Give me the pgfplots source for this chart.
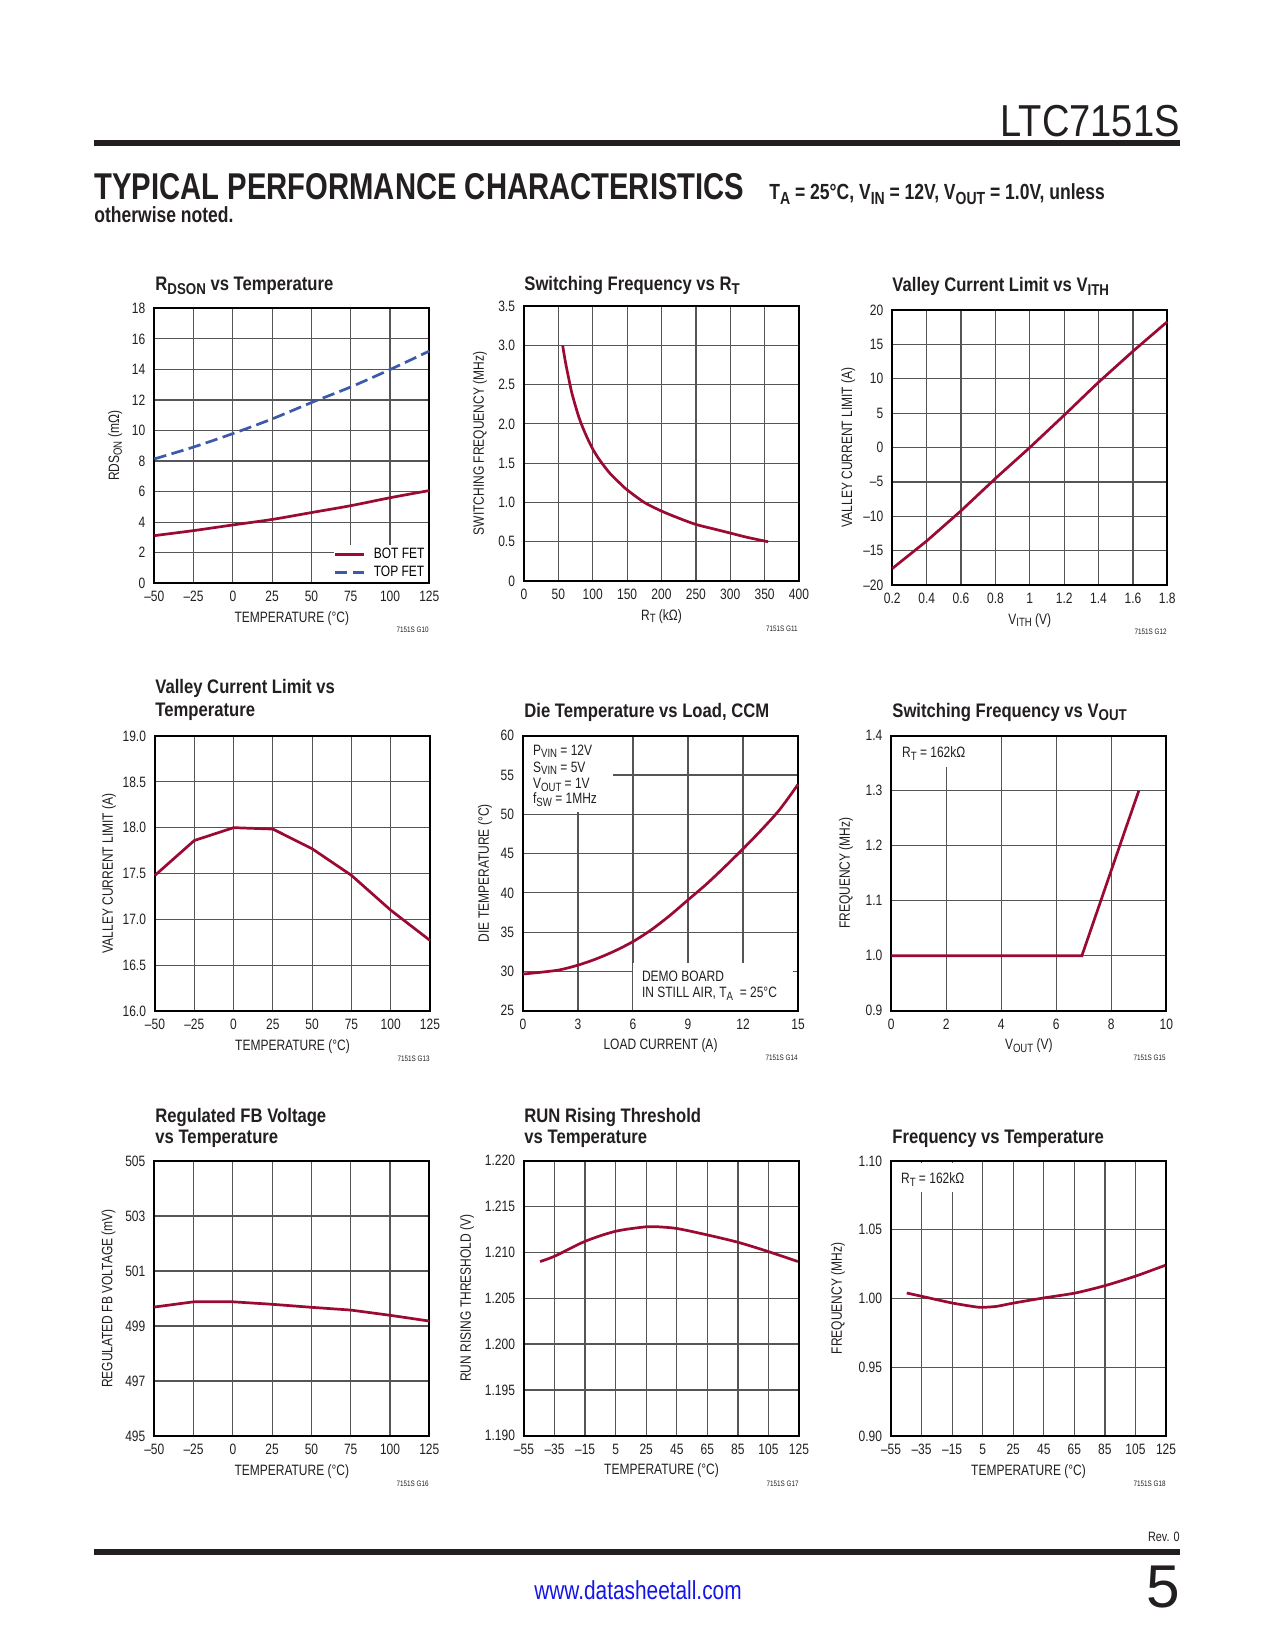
\documentclass[border=0pt]{standalone}
\usepackage{fontspec}
\setmainfont{Liberation Sans}[FakeStretch=0.8]
\newfontfamily\ttlfont{Liberation Sans}[FakeStretch=0.85]
\newfontfamily\plainfont{Liberation Sans}
\usepackage{graphicx}
\usepackage{xcolor}
\usepackage{pgfplots}
\pgfplotsset{compat=1.18}
\definecolor{crv}{RGB}{155,10,50}
\definecolor{blu}{RGB}{60,90,170}
\definecolor{grd}{RGB}{85,85,85}
\definecolor{ink}{RGB}{35,31,32}
\definecolor{web}{RGB}{20,20,235}
\newcommand{\sub}[1]{\raisebox{-0.35ex}{\scalebox{0.8}{#1}}}
\newcommand{\tk}{\fontsize{7.2}{8.4}\selectfont}
\newcommand{\ttl}{\ttlfont\bfseries\fontsize{9.4}{11}\selectfont}
\newcommand{\gid}{\fontsize{3.8}{4.2}\selectfont}
\pgfplotsset{
 lt/.style={
  scale only axis, width=132pt, height=132pt, anchor=south west,
  axis line style={line width=0.9pt, black},
  grid=major, grid style={line width=0.6pt, grd},
  tick style={draw=none},
  tick label style={font=\tk, ink},
  label style={font=\tk, ink},
  xticklabel style={anchor=base, yshift=-8.9pt},
  yticklabel style={xshift=-0.8pt},
  /pgf/number format/assume math mode=true,
  xlabel style={at={(axis description cs:0.5,-0.142)}, anchor=base},
  cycle list={{crv, mark=none}},
  every axis plot/.append style={line width=1.3pt, crv, mark=none},
  clip=false,
 },
 tempx/.style={xmin=-50,xmax=125, xtick={-50,-25,0,25,50,75,100,125},
   xticklabels={–50,–25,0,25,50,75,100,125}, xlabel={TEMPERATURE (°C)}},
 tempx2/.style={xmin=-55,xmax=125, xtick={-55,-35,-15,5,25,45,65,85,105,125},
   xticklabels={–55,–35,–15,5,25,45,65,85,105,125}, xlabel={TEMPERATURE (°C)}},
}
\begin{document}
\begin{tikzpicture}
\begin{scope}[x=0.48pt,y=-0.48pt]
\useasboundingbox (0,0) rectangle (1275,1650);
\fill[white] (0,0) rectangle (1275,1650);
% header
\node[anchor=base east, inner sep=0, ink] at (1180,137) {\resizebox{86pt}{15pt}{\plainfont LTC7151S}};
\fill[ink] (94,140) rectangle (1180,146);
\node[anchor=base west, inner sep=0, ink] at (94,200) {\resizebox{312pt}{12.5pt}{\plainfont\bfseries TYPICAL PERFORMANCE CHARACTERISTICS}};
\node[anchor=base west, inner sep=0, ink] at (769,200) {\resizebox{161pt}{!}{\bfseries\fontsize{10.5}{12}\selectfont T\sub{A} = 25°C, V\sub{IN} = 12V, V\sub{OUT} = 1.0V, unless}};
\node[anchor=base west, inner sep=0, ink] at (94,223) {\bfseries\fontsize{10.5}{12}\selectfont otherwise noted.};
% footer
\node[anchor=base east, inner sep=0, ink] at (1180,1541) {\fontsize{6.5}{7}\selectfont Rev. 0};
\fill[ink] (94,1549) rectangle (1180,1555);
\node[anchor=base, inner sep=0, web] at (638,1599) {\fontsize{12.5}{14}\selectfont www.datasheetall.com};
\node[anchor=base east, inner sep=0, ink] at (1180,1607) {\plainfont\fontsize{29}{30}\selectfont 5};
% titles
\node[anchor=base west, inner sep=0, ink] at (155,291) {\ttl R\sub{DSON} vs Temperature};
\node[anchor=base west, inner sep=0, ink] at (524,291) {\ttl Switching Frequency vs R\sub{T}};
\node[anchor=base west, inner sep=0, ink] at (892,292) {\ttl Valley Current Limit vs V\sub{ITH}};
\node[anchor=base west, inner sep=0, ink] at (155,693) {\ttl Valley Current Limit vs};
\node[anchor=base west, inner sep=0, ink] at (155,716) {\ttl Temperature};
\node[anchor=base west, inner sep=0, ink] at (524,717) {\ttl Die Temperature vs Load, CCM};
\node[anchor=base west, inner sep=0, ink] at (892,717) {\ttl Switching Frequency vs V\sub{OUT}};
\node[anchor=base west, inner sep=0, ink] at (155,1122) {\ttl Regulated FB Voltage};
\node[anchor=base west, inner sep=0, ink] at (155,1143) {\ttl vs Temperature};
\node[anchor=base west, inner sep=0, ink] at (524,1122) {\ttl RUN Rising Threshold};
\node[anchor=base west, inner sep=0, ink] at (524,1143) {\ttl vs Temperature};
\node[anchor=base west, inner sep=0, ink] at (892,1143) {\ttl Frequency vs Temperature};
% graph ids
\node[anchor=base east, inner sep=0, ink] at (429,632) {\gid 7151S G10};
\node[anchor=base east, inner sep=0, ink] at (798,631) {\gid 7151S G11};
\node[anchor=base east, inner sep=0, ink] at (1167,634) {\gid 7151S G12};
\node[anchor=base east, inner sep=0, ink] at (430,1061) {\gid 7151S G13};
\node[anchor=base east, inner sep=0, ink] at (798,1060) {\gid 7151S G14};
\node[anchor=base east, inner sep=0, ink] at (1166,1060) {\gid 7151S G15};
\node[anchor=base east, inner sep=0, ink] at (429,1486) {\gid 7151S G16};
\node[anchor=base east, inner sep=0, ink] at (799,1486) {\gid 7151S G17};
\node[anchor=base east, inner sep=0, ink] at (1166,1486) {\gid 7151S G18};
\end{scope}

% ---------- 1: RDSON
\begin{axis}[lt, tempx, at={(154.3*0.48pt,-583.3*0.48pt)},
 ymin=0,ymax=18, ytick={0,2,4,6,8,10,12,14,16,18}, yticklabels={0,2,4,6,8,10,12,14,16,18},
 ylabel={RDS\sub{ON} (mΩ)},
 ylabel style={at={(axis description cs:-0.142,0.5)}, anchor=center},
 legend style={at={(1,0)}, anchor=south east, xshift=-0.6pt, yshift=0.6pt, fill=white, draw=none, font=\tk, row sep=-0.5pt, inner xsep=0pt, inner ysep=0pt,
   nodes={inner ysep=1.2pt, inner xsep=1.5pt},
   /tikz/every odd column/.style={column sep=2.5pt}},
 legend cell align=left,
 legend image code/.code={\draw[#1, line width=1.3pt] (0pt,0pt) -- (14pt,0pt);},
]
\addplot[smooth] coordinates {(-50,3.12)(-25,3.45)(0,3.82)(25,4.18)(50,4.63)(75,5.08)(100,5.6)(125,6.07)};
\addlegendentry{BOT FET}
\addplot[smooth, blu, dash pattern=on 6pt off 2.6pt] coordinates {(-50,8.14)(-25,8.92)(0,9.8)(25,10.76)(50,11.83)(75,12.85)(100,13.99)(125,15.2)};
\addlegendentry{TOP FET}
\end{axis}

% ---------- 2: fsw vs RT
\begin{axis}[lt, at={(524*0.48pt,-581*0.48pt)},
 xmin=0,xmax=400, xtick={0,50,100,150,200,250,300,350,400}, xticklabels={0,50,100,150,200,250,300,350,400},
 ymin=0,ymax=3.5, ytick={0,0.5,1,1.5,2,2.5,3,3.5}, yticklabels={0,0.5,1.0,1.5,2.0,2.5,3.0,3.5},
 xlabel={R\sub{T} (kΩ)}, ylabel={SWITCHING FREQUENCY (MHz)},
 ylabel style={at={(axis description cs:-0.16,0.5)}, anchor=center},
]
\addplot[smooth] coordinates {(56.2,3.0)(60,2.80)(65,2.58)(70,2.38)(80,2.08)(90,1.86)(100,1.68)(110,1.54)(125,1.37)(140,1.24)(150,1.16)(175,1.0)(200,0.89)(225,0.80)(250,0.72)(275,0.665)(300,0.61)(325,0.555)(355,0.50)};
\end{axis}

% ---------- 3: valley vs VITH
\begin{axis}[lt, at={(892.3*0.48pt,-585*0.48pt)},
 xmin=0.2,xmax=1.8, xtick={0.2,0.4,0.6,0.8,1,1.2,1.4,1.6,1.8}, xticklabels={0.2,0.4,0.6,0.8,1,1.2,1.4,1.6,1.8},
 ymin=-20,ymax=20, ytick={-20,-15,-10,-5,0,5,10,15,20}, yticklabels={–20,–15,–10,–5,0,5,10,15,20},
 xlabel={V\sub{ITH} (V)}, ylabel={VALLEY CURRENT LIMIT (A)},
 ylabel style={at={(axis description cs:-0.16,0.5)}, anchor=center},
]
\addplot[crv] coordinates {(0.2,-17.6)(0.4,-13.6)(0.6,-9.2)(0.8,-4.5)(1.0,0)(1.2,4.7)(1.4,9.5)(1.6,14.0)(1.8,18.3)};
\end{axis}

% ---------- 4: valley vs temp
\begin{axis}[lt, tempx, at={(155*0.48pt,-1011*0.48pt)},
 ymin=16,ymax=19, ytick={16,16.5,17,17.5,18,18.5,19}, yticklabels={16.0,16.5,17.0,17.5,18.0,18.5,19.0},
 ylabel={VALLEY CURRENT LIMIT (A)},
 ylabel style={at={(axis description cs:-0.167,0.5)}, anchor=center},
]
\addplot[crv] coordinates {(-50,17.48)(-25,17.86)(0,18.0)(25,17.985)(50,17.77)(75,17.48)(100,17.1)(125,16.77)};
\end{axis}

% ---------- 5: die temp vs load
\begin{axis}[lt, at={(523*0.48pt,-1010.7*0.48pt)},
 xmin=0,xmax=15, xtick={0,3,6,9,12,15}, xticklabels={0,3,6,9,12,15},
 ymin=25,ymax=60, ytick={25,30,35,40,45,50,55,60}, yticklabels={25,30,35,40,45,50,55,60},
 xlabel={LOAD CURRENT (A)}, ylabel={DIE TEMPERATURE (°C)},
 ylabel style={at={(axis description cs:-0.138,0.5)}, anchor=center},
]
\fill[white] (axis cs:0.06,59.88) rectangle (axis cs:4.91,50.29);
\fill[white] (axis cs:5.98,25.12) rectangle (axis cs:14.73,31.07);
\node[anchor=base west, font=\tk, ink, inner sep=0] at (axis cs:0.53,57.54) {P\sub{VIN} = 12V};
\node[anchor=base west, font=\tk, ink, inner sep=0] at (axis cs:0.53,55.38) {S\sub{VIN} = 5V};
\node[anchor=base west, font=\tk, ink, inner sep=0] at (axis cs:0.53,53.22) {V\sub{OUT} = 1V};
\node[anchor=base west, font=\tk, ink, inner sep=0] at (axis cs:0.53,51.31) {f\sub{SW} = 1MHz};
\node[anchor=base west, font=\tk, ink, inner sep=0] at (axis cs:6.47,28.69) {DEMO BOARD};
\node[anchor=base west, font=\tk, ink, inner sep=0] at (axis cs:6.47,26.62) {IN STILL AIR, T\sub{A}\ \ = 25°C};
\addplot[smooth] coordinates {(0,29.67)(1,29.9)(2,30.2)(3,30.8)(4,31.6)(5,32.6)(6,33.8)(7,35.3)(8,37.1)(9,39.1)(10,41.1)(11,43.3)(12,45.6)(13,48.0)(14,50.6)(15,53.8)};
\end{axis}

% ---------- 6: fsw vs VOUT
\begin{axis}[lt, at={(891.3*0.48pt,-1010.7*0.48pt)},
 xmin=0,xmax=10, xtick={0,2,4,6,8,10}, xticklabels={0,2,4,6,8,10},
 ymin=0.9,ymax=1.4, ytick={0.9,1,1.1,1.2,1.3,1.4}, yticklabels={0.9,1.0,1.1,1.2,1.3,1.4},
 xlabel={V\sub{OUT} (V)}, ylabel={FREQUENCY (MHz)},
 ylabel style={at={(axis description cs:-0.165,0.5)}, anchor=center},
]
\fill[white] (axis cs:0.04,1.3985) rectangle (axis cs:2.93,1.343);
\node[anchor=base west, font=\tk, ink, inner sep=0] at (axis cs:0.38,1.3595) {R\sub{T} = 162kΩ};
\addplot[crv] coordinates {(0,1.0)(6.93,1.0)(8.5,1.228)(9.0,1.30)};
\end{axis}

% ---------- 7: FB voltage
\begin{axis}[lt, tempx, at={(154.3*0.48pt,-1436*0.48pt)},
 ymin=495,ymax=505, ytick={495,497,499,501,503,505}, yticklabels={495,497,499,501,503,505},
 ylabel={REGULATED FB VOLTAGE (mV)},
 ylabel style={at={(axis description cs:-0.167,0.5)}, anchor=center},
]
\addplot[crv] coordinates {(-50,499.69)(-25,499.88)(0,499.88)(25,499.79)(50,499.68)(75,499.58)(100,499.39)(125,499.18)};
\end{axis}

% ---------- 8: RUN threshold
\begin{axis}[lt, tempx2, at={(524*0.48pt,-1435.7*0.48pt)},
 ymin=1.19,ymax=1.22, ytick={1.19,1.195,1.2,1.205,1.21,1.215,1.22}, yticklabels={1.190,1.195,1.200,1.205,1.210,1.215,1.220},
 ylabel={RUN RISING THRESHOLD (V)},
 ylabel style={at={(axis description cs:-0.207,0.5)}, anchor=center},
]
\addplot[smooth] coordinates {(-44.5,1.2090)(-34.7,1.2096)(-15.1,1.2112)(4.9,1.2123)(25.2,1.2128)(31.7,1.2128)(45.2,1.2126)(65.1,1.2119)(85.1,1.2111)(104.7,1.2101)(124.3,1.2090)};
\end{axis}

% ---------- 9: freq vs temp
\begin{axis}[lt, tempx2, at={(891*0.48pt,-1436*0.48pt)},
 ymin=0.9,ymax=1.1, ytick={0.9,0.95,1,1.05,1.1}, yticklabels={0.90,0.95,1.00,1.05,1.10},
 ylabel={FREQUENCY (MHz)},
 ylabel style={at={(axis description cs:-0.193,0.5)}, anchor=center},
]
\fill[white] (axis cs:-54.2,1.0988) rectangle (axis cs:-2.2,1.0777);
\node[anchor=base west, font=\tk, ink, inner sep=0] at (axis cs:-48.65,1.0833) {R\sub{T} = 162kΩ};
\addplot[smooth, tension=0.4] coordinates {(-44.7,1.0040)(-34.9,1.0016)(-14.8,0.9967)(1.1,0.9938)(5.5,0.9936)(14.2,0.9943)(25.2,0.9967)(44.8,1.0004)(65.6,1.0040)(85.2,1.0094)(104.9,1.0162)(124.6,1.0242)};
\end{axis}
\end{tikzpicture}
\end{document}
